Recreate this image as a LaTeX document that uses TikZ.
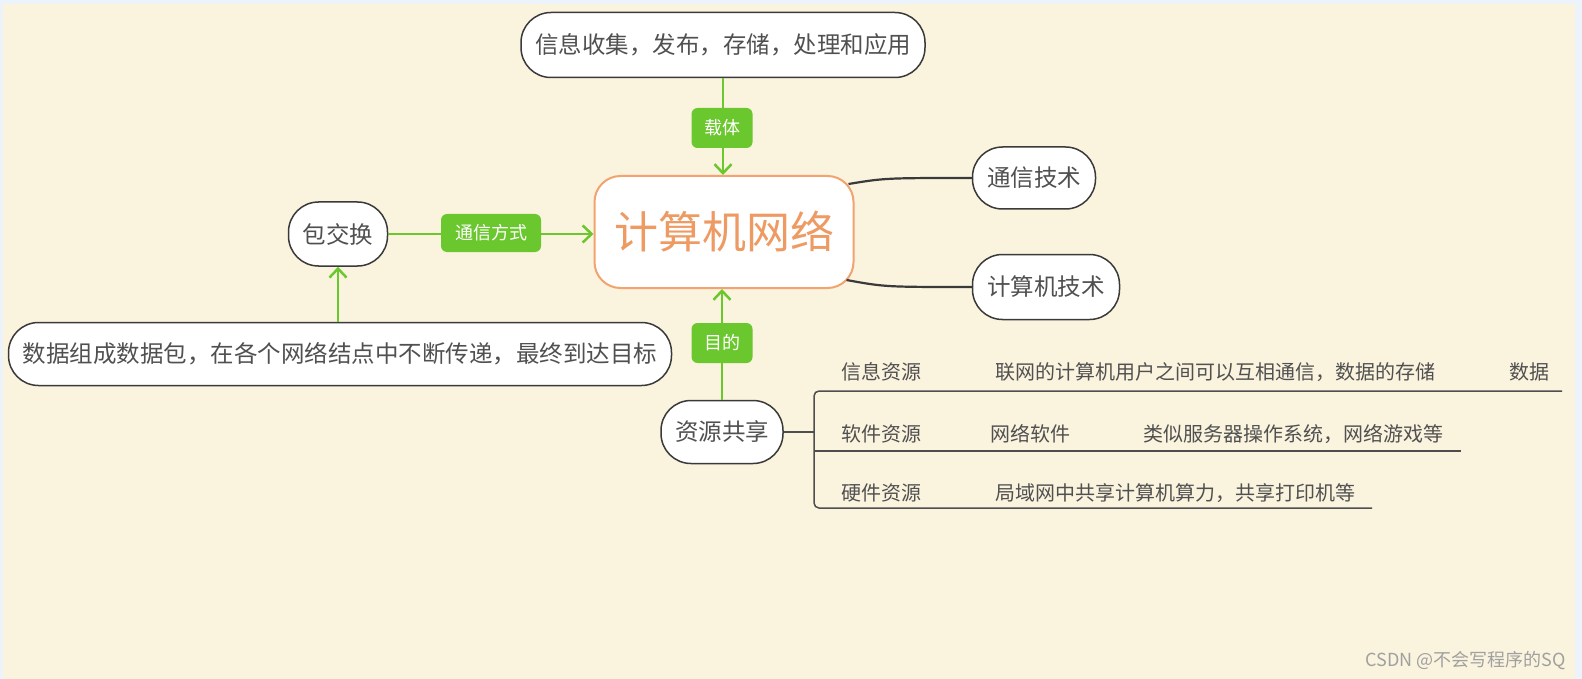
\documentclass[tikz,border=0pt]{standalone}
\usepackage{fontspec}
\setmainfont{Noto Sans CJK SC}
\usetikzlibrary{arrows.meta,calc}
\definecolor{bgbeige}{HTML}{FAF3DE}
\definecolor{bgblue}{HTML}{EDF3FB}
\definecolor{gr}{HTML}{6BC72E}
\definecolor{orb}{HTML}{F2A36E}
\definecolor{ort}{HTML}{EE9A63}
\definecolor{txt}{HTML}{505050}
\definecolor{bd}{HTML}{3A3A3A}
\definecolor{wm}{HTML}{A0A0A0}
\tikzset{
  topic/.style={draw=bd,line width=1.5pt,fill=white,rounded corners=30pt,inner sep=0pt,
    text=txt,font=\fontsize{23.5}{26}\selectfont},
  glabel/.style={fill=gr,rounded corners=6pt,inner sep=0pt,minimum width=61pt,minimum height=40pt,
    text=white,font=\fontsize{18}{20}\selectfont},
  garrow/.style={draw=gr,line width=2.5pt,-{Straight Barb[length=9pt,width=17pt,line width=2.5pt]}},
  dline/.style={draw=bd,line width=2.2pt},
  bline/.style={draw=bd!90,line width=1.5pt},
  btext/.style={text=txt,font=\fontsize{20}{22}\selectfont,inner sep=0pt},
}
\begin{document}
\begin{tikzpicture}[x=1pt,y=-1pt]
\useasboundingbox (0,0) rectangle (1582,679);
\fill[bgblue] (0,0) rectangle (1582,679);
\fill[bgbeige] (3,4) rectangle (1575,679);

% nodes
\node[topic,minimum width=404pt,minimum height=65pt] (top) at (723,45) {信息收集，发布，存储，处理和应用};
\node[draw=orb,line width=2pt,fill=white,rounded corners=26pt,inner sep=0pt,minimum width=259pt,minimum height=112pt,
  text=ort,font=\fontsize{44}{48}\selectfont] (center) at (724,232) {计算机网络};
\node[topic,minimum width=123pt,minimum height=62pt] (tx) at (1034,178) {通信技术};
\node[topic,minimum width=147pt,minimum height=65pt] (jx) at (1046,287) {计算机技术};
\node[topic,minimum width=99pt,minimum height=64pt] (bao) at (338,234) {包交换};
\node[topic,minimum width=663pt,minimum height=63pt] (long) at (340,354) {数据组成数据包，在各个网络结点中不断传递，最终到达目标};
\node[topic,minimum width=122pt,minimum height=63pt] (zy) at (722,432) {资源共享};

% connectors
\draw[garrow] (top.south) -- (top.south |- center.north);
\draw[garrow] (bao.east) -- (bao.east -| center.west);
\draw[garrow] (zy.north) -- (zy.north |- center.south);
\draw[garrow] (long.north -| bao.south) -- (bao.south);
\draw[dline] ([xshift=-6pt,yshift=48pt]center.east) .. controls (885,178) .. (tx.west);
\draw[dline] ([xshift=-8pt,yshift=-48pt]center.east) .. controls (885,287) .. (jx.west);

% labels on connectors
\node[glabel] (lz) at (722,128) {载体};
\node[glabel,minimum width=100pt,minimum height=38pt] (lfs) at (491,233) {通信方式};
\node[glabel] (lmd) at (722,343) {目的};

% bracket
\coordinate (bk) at (814,432);
\draw[bline] (zy.east) -- (bk);
\draw[bline,rounded corners=5pt] (1562,391) -- (814,391) -- (814,508) -- (1372,508);
\draw[bline] (814,451) -- (1461,451);

\node[btext] (r1a) at (881,372) {信息资源};
\node[btext] (r1b) at (1215,372) {联网的计算机用户之间可以互相通信，数据的存储};
\node[btext] (r1c) at (1529,372) {数据};
\node[btext] (r2a) at (881,434) {软件资源};
\node[btext] (r2b) at (1030,434) {网络软件};
\node[btext] (r2c) at (1293,434) {类似服务器操作系统，网络游戏等};
\node[btext] (r3a) at (881,493) {硬件资源};
\node[btext] (r3b) at (1175,493) {局域网中共享计算机算力，共享打印机等};

\node[anchor=east,text=wm,font=\fontsize{18}{20}\selectfont,inner sep=0pt] (wmk) at (1566,661) {CSDN @不会写程序的SQ};
\end{tikzpicture}
\end{document}
